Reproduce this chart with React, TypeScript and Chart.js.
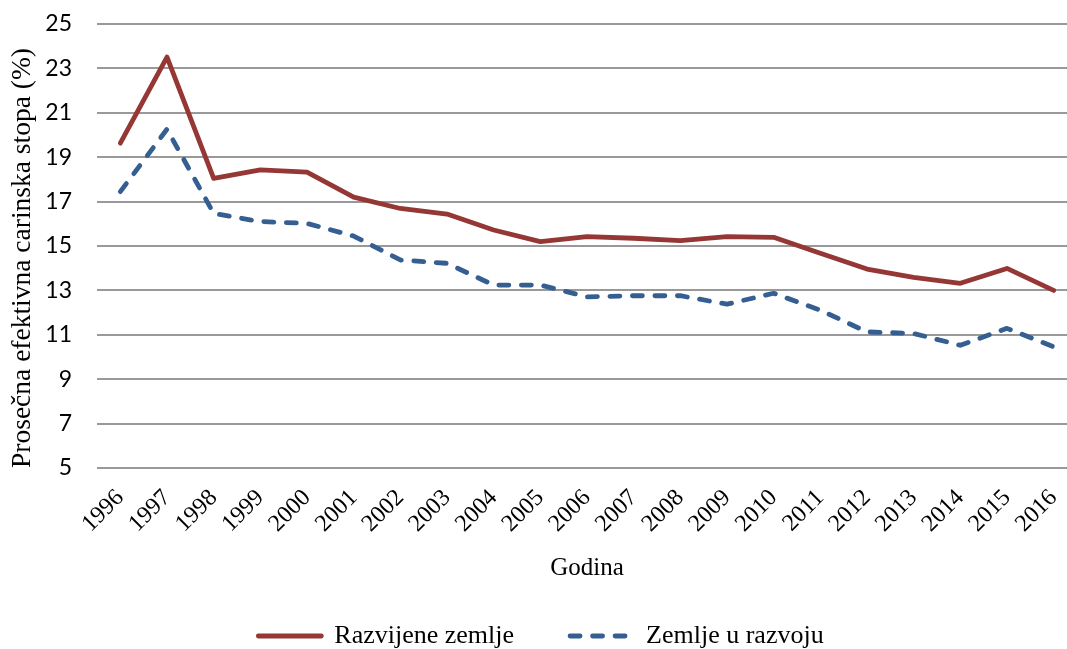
import React, { useEffect, useRef } from "react";
import { Chart, registerables } from "chart.js";

Chart.register(...registerables);

const years = ["1996","1997","1998","1999","2000","2001","2002","2003","2004","2005","2006","2007","2008","2009","2010","2011","2012","2013","2014","2015","2016"];
const developed = [19.63, 23.51, 18.05, 18.43, 18.33, 17.2, 16.69, 16.44, 15.72, 15.2, 15.42, 15.35, 15.24, 15.42, 15.39, 14.67, 13.96, 13.59, 13.32, 13.99, 13.0];
const developing = [17.45, 20.26, 16.47, 16.1, 16.02, 15.45, 14.37, 14.22, 13.24, 13.24, 12.71, 12.76, 12.76, 12.38, 12.87, 12.11, 11.13, 11.06, 10.53, 11.29, 10.46];
const seriesNames = ["Razvijene zemlje", "Zemlje u razvoju"];
const yTitle = "Prosečna efektivna carinska stopa (%)";
const xTitle = "Godina";
const yMin = 5;
const yMax = 25;
const yStep = 2;

const SERIF = "'Liberation Serif', 'Times New Roman', serif";
const SANS = "Lato, 'Open Sans', sans-serif";

export default function App() {
  const ref = useRef<HTMLCanvasElement | null>(null);
  useEffect(() => {
    if (!ref.current) return;
    const chart = new Chart(ref.current, {
      type: "line",
      data: {
        labels: years,
        datasets: [
          {
            label: seriesNames[0],
            data: developed,
            borderColor: "#953735",
            backgroundColor: "#953735",
            borderWidth: 4.8,
            pointRadius: 0,
            tension: 0,
            borderJoinStyle: "round",
            borderCapStyle: "round",
          },
          {
            label: seriesNames[1],
            data: developing,
            borderColor: "#365F91",
            backgroundColor: "#365F91",
            borderWidth: 4.8,
            borderDash: [10, 12.5],
            pointRadius: 0,
            tension: 0,
            borderJoinStyle: "round",
            borderCapStyle: "round",
          },
        ],
      },
      options: {
        responsive: false,
        animation: false,
        devicePixelRatio: 1,
        layout: { padding: { top: 24, left: 0, right: 0, bottom: 0 } },
        plugins: {
          tooltip: { enabled: false },
          legend: {
            position: "bottom",
            labels: {
              usePointStyle: true,
              pointStyle: "line",
              pointStyleWidth: 63,
              boxWidth: 63,
              padding: 56,
              color: "#000",
              font: { family: SERIF, size: 26 },
              generateLabels: (c: any) => {
                const items = Chart.defaults.plugins.legend.labels.generateLabels(c);
                return items.map((it: any) => {
                  const ds = c.data.datasets[it.datasetIndex];
                  return {
                    ...it,
                    lineDash: ds.borderDash || [],
                    lineCap: "round",
                    lineWidth: ds.borderWidth,
                    strokeStyle: ds.borderColor,
                  };
                });
              },
            },
          },
        },
        scales: {
          x: {
            offset: true,
            grid: { display: false },
            border: { display: false },
            ticks: {
              autoSkip: false,
              maxRotation: 45,
              minRotation: 45,
              padding: 8,
              color: "#000",
              font: { family: SERIF, size: 24 },
            },
            title: {
              display: true,
              text: xTitle,
              color: "#000",
              font: { family: SERIF, size: 25 },
              padding: { top: 0, bottom: -16 },
            },
            afterFit: (s: any) => { s.height = 99; },
          },
          y: {
            min: yMin,
            max: yMax,
            grid: { color: "#999999", lineWidth: 2, drawTicks: false },
            border: { display: false },
            ticks: {
              stepSize: yStep,
              padding: 25,
              color: "#000",
              font: { family: SANS, size: 23 },
            },
            title: {
              display: true,
              text: yTitle,
              align: "start",
              color: "#000",
              font: { family: SERIF, size: 27.5 },
              padding: { top: 6, bottom: 0 },
            },
            afterFit: (s: any) => {
              s.width = 97;
              s.paddingTop = 0;
              s.paddingBottom = 0;
            },
          },
        },
      },
    });
    return () => chart.destroy();
  }, []);
  return (
    <div style={{ position: "absolute", left: 0, top: 0, width: 1067, height: 649, overflow: "hidden", background: "#fff" }}>
      <canvas ref={ref} width={1082} height={659} style={{ width: 1082, height: 659, display: "block" }} />
    </div>
  );
}
